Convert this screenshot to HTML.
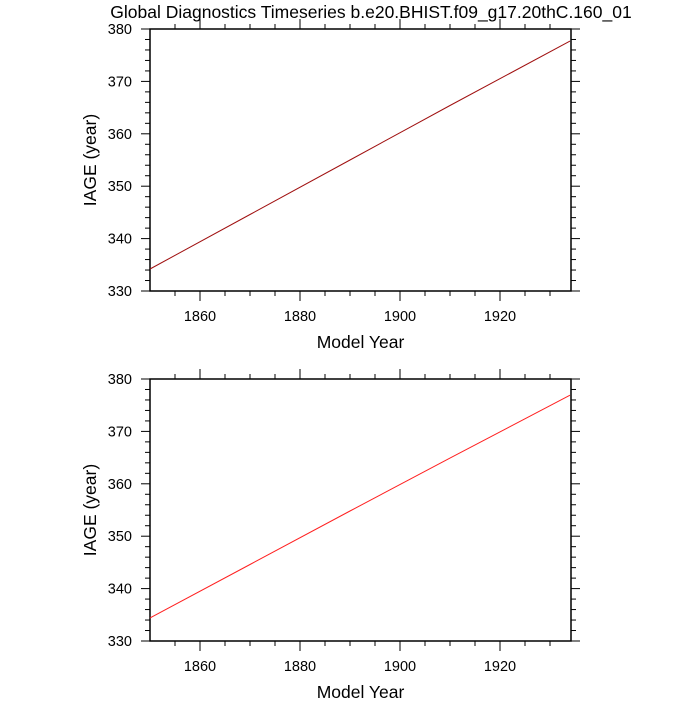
<!DOCTYPE html>
<html><head><meta charset="utf-8"><style>
body{margin:0;background:#fff}
svg{font-family:"Liberation Sans",sans-serif}
</style></head><body>
<svg id="c" width="700" height="700">
<text x="371" y="18" text-anchor="middle" font-size="17.5">Global Diagnostics Timeseries b.e20.BHIST.f09_g17.20thC.160_01</text>
</svg>
<script>
const years1 = [1850, 1870, 1890, 1910, 1934];
const vals1 = [334.2, 344.6, 355.0, 365.4, 377.7];
const years2 = [1850, 1870, 1890, 1910, 1934];
const vals2 = [334.4, 344.6, 354.8, 364.9, 376.9];
const xTicks = [1860, 1880, 1900, 1920];
const yTicks = [330, 340, 350, 360, 370, 380];
const svg = document.getElementById('c');
const NS = 'http://www.w3.org/2000/svg';
function mk(t, a) { const e = document.createElementNS(NS, t); for (const k in a) e.setAttribute(k, a[k]); svg.appendChild(e); return e; }
function panel(top, years, vals, color, name) {
  const L = 150, R = 571, T = top, B = top + 262;
  const xs = v => L + (v - 1850) * (R - L) / 84.2;
  const ys = v => B - (v - 330) * (B - T) / 50;
  const fr = mk('rect', {x: L, y: T, width: R - L, height: B - T, fill: 'none', stroke: '#000', 'stroke-width': 1.5});
  
  
  for (let v = 1855; v <= 1930; v += 5) {
    const major = v % 20 === 0;
    const len = major ? 10 : 5;
    const x = xs(v);
    const t1 = mk('line', {x1: x, x2: x, y1: B, y2: B + len, stroke: '#000', 'stroke-width': 1});
    
    
    const t2 = mk('line', {x1: x, x2: x, y1: T, y2: T - len, stroke: '#000', 'stroke-width': 1});
    
    
  }
  xTicks.forEach(v => {
    const t = mk('text', {x: xs(v), y: B + 30, 'text-anchor': 'middle', 'font-size': 14.5});
    t.textContent = v;
    
    
  });
  for (let v = 330; v <= 380; v += 2) {
    const major = v % 10 === 0;
    const len = major ? 9 : 5;
    const y = ys(v);
    const t1 = mk('line', {x1: L, x2: L - len, y1: y, y2: y, stroke: '#000', 'stroke-width': 1});
    
    
    const t2 = mk('line', {x1: R, x2: R + len, y1: y, y2: y, stroke: '#000', 'stroke-width': 1});
    
    
  }
  yTicks.forEach(v => {
    const t = mk('text', {x: L - 18, y: ys(v) + 5, 'text-anchor': 'end', 'font-size': 14.5});
    t.textContent = v;
    
    
  });
  const yl = mk('text', {x: 96, y: (T + B) / 2, 'text-anchor': 'middle', 'font-size': 17.5, transform: `rotate(-90 96 ${(T + B) / 2})`});
  yl.textContent = 'IAGE (year)';
  
  
  const xl = mk('text', {x: (L + R) / 2, y: B + 57, 'text-anchor': 'middle', 'font-size': 17.5});
  xl.textContent = 'Model Year';
  
  
  const pts = years.map((y, i) => xs(y).toFixed(1) + ',' + ys(vals[i]).toFixed(1)).join(' ');
  const pl = mk('polyline', {points: pts, fill: 'none', stroke: color, 'stroke-width': 1});
  
  
}
panel(29, years1, vals1, '#a01010', 'top');
panel(379, years2, vals2, '#ff2020', 'bottom');
</script>
</body></html>
